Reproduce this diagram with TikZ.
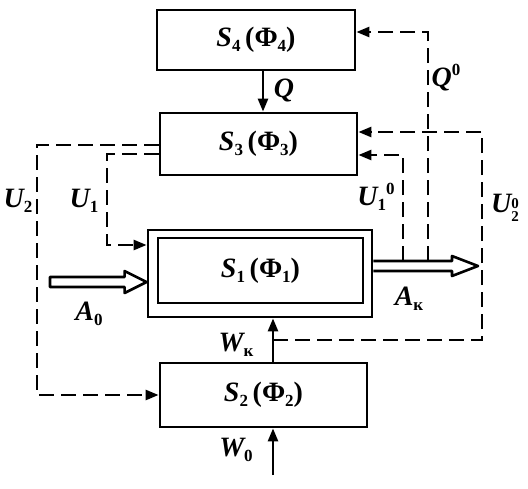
\documentclass[tikz,border=0pt]{standalone}
\usepackage{fontspec}
\setmainfont{Liberation Serif}
\usetikzlibrary{arrows.meta,calc}
\newcommand\sbs[1]{\raisebox{-0.4ex}{\fontsize{17}{17}\selectfont\upshape #1}}
\newcommand\sps[1]{\raisebox{0.85ex}{\fontsize{17}{17}\selectfont\upshape #1}}
\newcommand\stk[2]{\raisebox{-0.75ex}{\fontsize{15}{19}\selectfont\upshape\shortstack[l]{#1\\#2}}}
\newcommand\lab{\fontsize{28}{28}\selectfont\bfseries\itshape}
\begin{document}
\begin{tikzpicture}[x=1pt,y=-1pt,
  blk/.style={draw, line width=2.8pt, inner sep=0pt, font=\lab},
  arr/.style={-{Triangle[length=13pt,width=10pt]}, line width=2.6pt},
  dsh/.style={line width=2.6pt, dash pattern=on 15pt off 7pt},
  darr/.style={dsh, -{Triangle[length=13pt,width=10pt]}},
  hol/.style={line width=2.6pt, fill=white, line join=round},
  lbl/.style={font=\lab, inner sep=0pt}]
\useasboundingbox (0,0) rectangle (528,488);
% blocks
\node[blk, minimum width=198, minimum height=60] (s4) at (256,40) {S\sbs{4}\,{\upshape(Φ\sbs{4})}};
\node[blk, minimum width=197, minimum height=62] (s3) at (258.5,144) {S\sbs{3}\,{\upshape(Φ\sbs{3})}};
\node[blk, minimum width=224, minimum height=87] (s1) at (260,273.5) {};
\node[blk, minimum width=205, minimum height=65] (s1in) at (260.5,270.5) {S\sbs{1}\,{\upshape(Φ\sbs{1})}};
\node[blk, minimum width=207, minimum height=64] (s2) at (263.5,395) {S\sbs{2}\,{\upshape(Φ\sbs{2})}};
% coordinates
\coordinate (a0s) at (50,282);
\coordinate (a0t) at (s1.west |- a0s);
\coordinate (aks) at (s1.east |- 0,266);
\coordinate (akt) at (478,266);
\coordinate (wk) at (273,340);
\coordinate (w0) at (273,475);
\coordinate (q0t) at (428,32);
\coordinate (q0b) at (428,261);
\coordinate (u10c) at (403,155);
\coordinate (u10b) at (403,261);
\coordinate (u20t) at (482,132);
\coordinate (u20b) at (482,340);
\coordinate (u1c) at (107,154);
\coordinate (u1b) at (107,245);
\coordinate (u2c) at (37,145);
\coordinate (u2b) at (37,395);
% solid arrows
\draw[arr] (s4.south -| 263,0) -- (s3.north -| 263,0);
\draw[arr] (s2.north -| wk) -- (s1.south -| wk);
\draw[arr] (w0) -- (s2.south -| w0);
% hollow arrows
\draw[hol] ($(a0s)+(0,-5)$) -- ($(a0t)+(-22,-5)$) -- ($(a0t)+(-22,-11)$) -- (a0t)
  -- ($(a0t)+(-22,11)$) -- ($(a0t)+(-22,5)$) -- ($(a0s)+(0,5)$) -- cycle;
\draw[hol] ($(aks)+(0,-5)$) -- ($(akt)+(-26,-5)$) -- ($(akt)+(-26,-10)$) -- (akt)
  -- ($(akt)+(-26,10)$) -- ($(akt)+(-26,5)$) -- ($(aks)+(0,5)$);
% dashed connectors
\draw[darr] (q0b) -- (q0t) -- (s4.east |- q0t);
\draw[darr] (u10b) -- (u10c) -- (s3.east |- u10c);
\draw[darr] (wk) -- (u20b) -- (u20t) -- (s3.east |- u20t);
\draw[darr] (s3.west |- u1c) -- (u1c) -- (u1b) -- (s1.west |- u1b);
\draw[darr] (s3.west |- u2c) -- (u2c) -- (u2b) -- (s2.west |- u2b);
% labels
\node[lbl] (lq) at (284,90) {Q};
\node[lbl] (lq0) at (446,78) {Q\sps{0}};
\node[lbl] (lu2) at (18,201) {U\sbs{2}};
\node[lbl] (lu1) at (84,201) {U\sbs{1}};
\node[lbl] (lu10) at (376,197) {U\sbs{1}\sps{0}};
\node[lbl] (lu20) at (505,208) {U\stk{0}{2}};
\node[lbl] (la0) at (89,314) {A\sbs{0}};
\node[lbl] (lak) at (409,299) {A\sbs{к}};
\node[lbl] (lwk) at (236,345) {W\sbs{к}};
\node[lbl] (lw0) at (236,450) {W\sbs{0}};
\end{tikzpicture}
\end{document}
